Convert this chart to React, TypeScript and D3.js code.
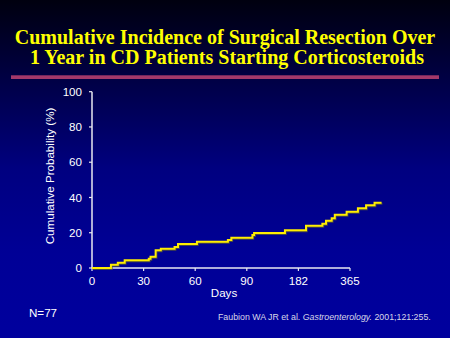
import React from "react";
import * as d3 from "d3";

const titleLines = [
  "Cumulative Incidence of Surgical Resection Over",
  "1 Year in CD Patients Starting Corticosteroids",
];
const xTicks = [0, 30, 60, 90, 182, 365];
const yTicks = [0, 20, 40, 60, 80, 100];
const days = [0, 11, 15, 19, 33, 34, 37, 40, 48, 50, 61, 79, 81, 100, 103, 158, 209, 267, 280, 300, 311, 353, 393, 422, 452, 477];
const cumPct = [0, 1.9, 3.0, 4.4, 5.3, 6.4, 10.0, 10.9, 11.9, 13.6, 14.9, 15.9, 17.2, 18.7, 19.9, 21.4, 24.0, 25.1, 26.8, 28.2, 30.2, 31.9, 33.9, 35.6, 37.0, 37.0];

export default function App() {
  const W = 450, H = 338;
  const x0 = 92, tickGap = 51.6;
  const x = d3.scaleLinear().domain(xTicks).range(xTicks.map((_, i) => x0 + i * tickGap));
  const y = d3.scaleLinear().domain([0, 100]).range([268, 91.7]);
  const pts = days.map((d, i) => [d, cumPct[i]] as [number, number]);
  const line = d3.line<[number, number]>().x(d => x(d[0])).y(d => y(d[1])).curve(d3.curveStepAfter);
  const path = line(pts) || "";
  const sans = "'Liberation Sans', Arial, sans-serif";
  const axisColor = "#e8e8f0";
  const fs = 11.6;
  return (
    <svg width={W} height={H} style={{ position: "fixed", left: 0, top: 0 }}>
      <defs>
        <linearGradient id="bg" x1="0" y1="0" x2="0" y2="1">
          <stop offset="0" stopColor="#00000f" />
          <stop offset="0.25" stopColor="#000048" />
          <stop offset="0.5" stopColor="#000080" />
          <stop offset="0.75" stopColor="#000096" />
          <stop offset="1" stopColor="#00009e" />
        </linearGradient>
      </defs>
      <rect x={0} y={0} width={W} height={H} fill="url(#bg)" />
      <text x={225} y={44} textAnchor="middle" fill="#ffff00" fontFamily="'Liberation Serif', 'Times New Roman', serif" fontWeight="bold" fontSize={20}>{titleLines[0]}</text>
      <text x={227} y={64} textAnchor="middle" fill="#ffff00" fontFamily="'Liberation Serif', 'Times New Roman', serif" fontWeight="bold" fontSize={20}>{titleLines[1]}</text>
      <rect x={11} y={75.3} width={428} height={3.7} fill="#a3386a" />
      <line x1={x0} x2={x0} y1={y(0)} y2={y(100)} stroke={axisColor} strokeWidth={1.5} />
      <line x1={x0} x2={x(365)} y1={y(0)} y2={y(0)} stroke={axisColor} strokeWidth={1.5} />
      {yTicks.map(t => (
        <g key={"y" + t}>
          <line x1={x0 - 3} x2={x0} y1={y(t)} y2={y(t)} stroke={axisColor} strokeWidth={1.2} />
          <text x={82} y={y(t) + 4.2} textAnchor="end" fill="#ffffff" fontFamily={sans} fontSize={fs}>{t}</text>
        </g>
      ))}
      {xTicks.map(t => (
        <g key={"x" + t}>
          <line x1={x(t)} x2={x(t)} y1={y(0)} y2={y(0) + 3} stroke={axisColor} strokeWidth={1.2} />
          <text x={x(t)} y={285} textAnchor="middle" fill="#ffffff" fontFamily={sans} fontSize={fs}>{t}</text>
        </g>
      ))}
      <text transform="translate(53.5,176) rotate(-90)" textAnchor="middle" fill="#ffffff" fontFamily={sans} fontSize={11.6}>Cumulative Probability (%)</text>
      <text x={224} y={297} textAnchor="middle" fill="#ffffff" fontFamily={sans} fontSize={fs}>Days</text>
      <path d={path} fill="none" stroke="#5a5a30" strokeWidth={2} transform="translate(0.8,1)" opacity={0.8} />
      <path d={path} fill="none" stroke="#ffee00" strokeWidth={2} />
      <text x={29} y={316.5} fill="#ffffff" fontFamily={sans} fontSize={fs}>N=77</text>
      <text x={218} y={320} fill="#d8d8e8" fontFamily={sans} fontSize={8.8}>
        Faubion WA JR et al. <tspan fontStyle="italic">Gastroenterology.</tspan> 2001;121:255.
      </text>
    </svg>
  );
}
